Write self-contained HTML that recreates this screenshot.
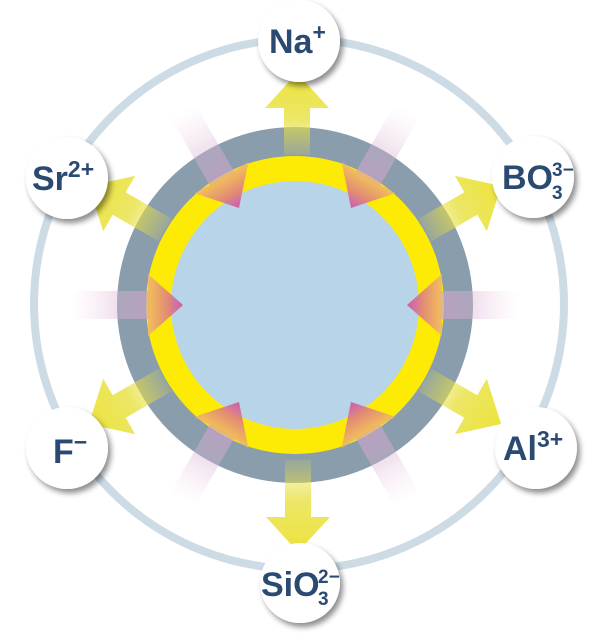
<!DOCTYPE html>
<html><head><meta charset="utf-8"><style>html,body{margin:0;padding:0;background:#fff}svg{display:block}</style></head>
<body>
<svg width="600" height="640" viewBox="0 0 600 640" xmlns="http://www.w3.org/2000/svg" font-family="Liberation Sans, Arial, sans-serif">
<defs>
<linearGradient id="yg" x1="0" y1="1" x2="0" y2="0">
<stop offset="0" stop-color="#e8e040" stop-opacity="0.15"/>
<stop offset="0.45" stop-color="#e8e040" stop-opacity="0.8"/>
<stop offset="1" stop-color="#ece43c" stop-opacity="1"/>
</linearGradient>
<linearGradient id="ps" x1="0" y1="0" x2="0" y2="1">
<stop offset="0" stop-color="#f4d0e4" stop-opacity="0"/>
<stop offset="1" stop-color="#c8a0c8" stop-opacity="0.7"/>
</linearGradient>
<linearGradient id="ph" x1="0" y1="0" x2="0" y2="1">
<stop offset="0" stop-color="#f0b868" stop-opacity="0.85"/>
<stop offset="1" stop-color="#d0509c" stop-opacity="0.9"/>
</linearGradient>
<filter id="sh" x="-30%" y="-30%" width="170%" height="170%">
<feDropShadow dx="3" dy="4" stdDeviation="3" flood-color="#000" flood-opacity="0.45"/>
</filter>
<g id="ya"><path d="M-13,-150 L13,-150 L13,-203 L32,-203 L0,-238 L-32,-203 L-13,-203 Z" fill="url(#yg)"/></g>
<g id="yn"><path d="M-13,-150 L13,-150 L13,-197 L32,-197 L0,-232 L-32,-197 L-13,-197 Z" fill="url(#yg)"/></g>
<g id="ys"><path d="M-13,-155 L13,-155 L13,-212 L32,-212 L0,-247 L-32,-212 L-13,-212 Z" fill="url(#yg)"/></g>
<g id="pa">
<rect x="-14" y="-225" width="28" height="80" fill="url(#ps)"/>
<path d="M-31,-147 L31,-147 L0,-112 Z" fill="url(#ph)"/>
</g>
</defs>
<circle cx="299" cy="304" r="265" fill="none" stroke="#cddbe5" stroke-width="8"/>
<circle cx="295" cy="305" r="178" fill="#8a9dac"/>
<circle cx="295" cy="305" r="149" fill="#fdeb05"/>
<circle cx="295" cy="305" r="124" fill="#b8d4e8"/>
<g transform="translate(295,305)">
<use href="#pa" transform="rotate(-90)"/>
<use href="#pa" transform="rotate(90)"/>
<use href="#pa" transform="rotate(-30)"/>
<use href="#pa" transform="rotate(30)"/>
<use href="#pa" transform="rotate(150)"/>
<use href="#pa" transform="rotate(210)"/>
<use href="#yn" transform="translate(2,0)"/>
<use href="#ya" transform="rotate(60)"/>
<use href="#ya" transform="rotate(120)"/>
<use href="#ys" transform="translate(3,0) rotate(180)"/>
<use href="#ya" transform="rotate(240)"/>
<use href="#ya" transform="rotate(300)"/>
</g>
<g fill="#fff" filter="url(#sh)">
<circle cx="299" cy="41" r="41"/>
<circle cx="67" cy="178" r="41"/>
<circle cx="533" cy="177" r="41"/>
<circle cx="67" cy="448" r="41"/>
<circle cx="536" cy="448" r="41"/>
<circle cx="300" cy="583" r="40"/>
</g>
<g fill="#2b4a72" font-weight="bold" font-size="34">
<text x="269" y="53">Na<tspan font-size="23" dy="-13">+</tspan></text>
<text x="32" y="190">Sr<tspan font-size="23" dy="-13">2+</tspan></text>
<text x="502" y="189">BO</text>
<text x="552" y="176" font-size="19">3−</text>
<text x="552" y="199" font-size="19">3</text>
<text x="53" y="463">F<tspan font-size="23" dy="-13">−</tspan></text>
<text x="503" y="460">Al<tspan font-size="23" dy="-13">3+</tspan></text>
<text x="261" y="596">SiO</text>
<text x="318" y="583" font-size="19">2−</text>
<text x="318" y="605" font-size="19">3</text>
</g>
</svg>
</body></html>
